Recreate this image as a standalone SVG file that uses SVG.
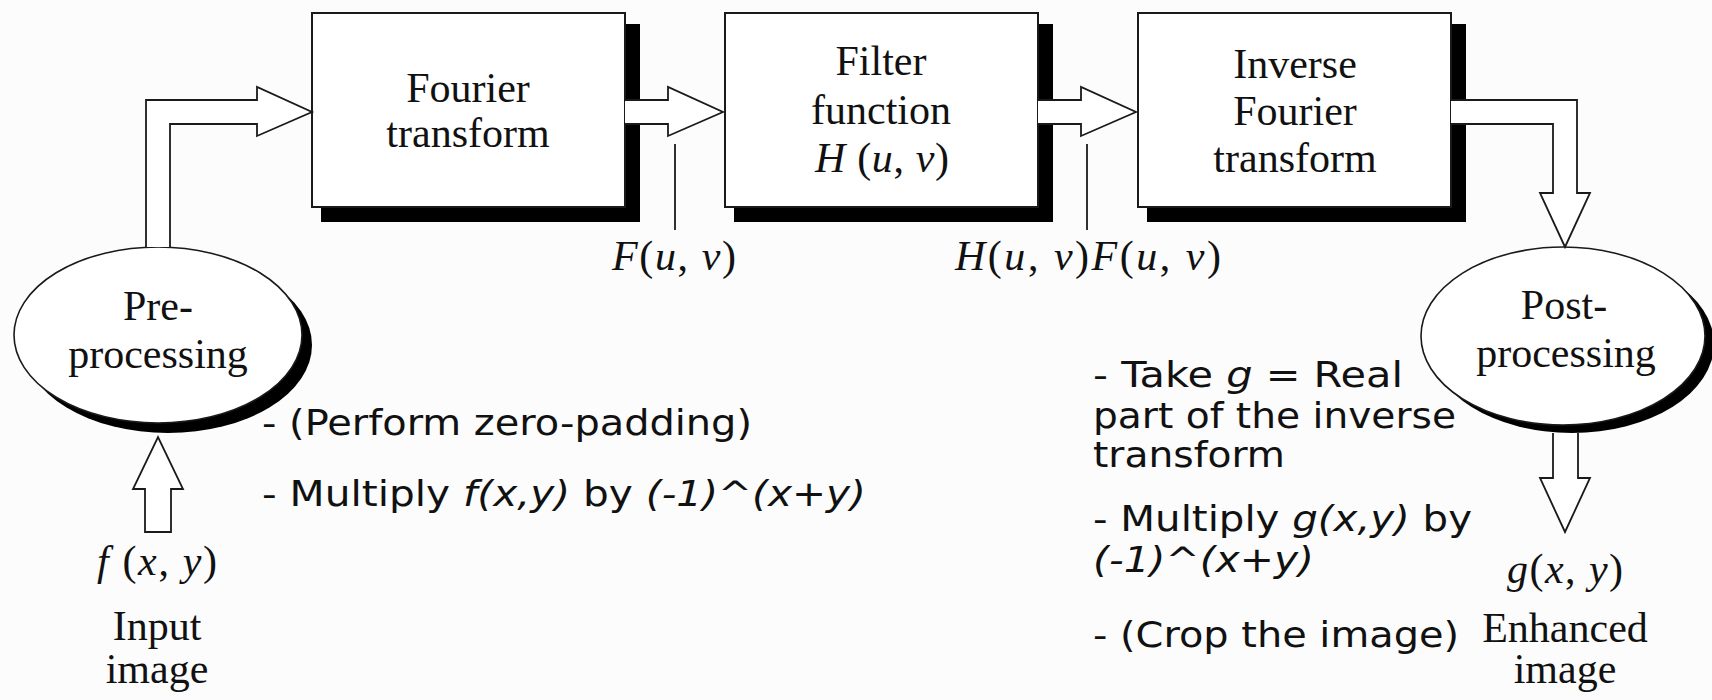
<svg xmlns="http://www.w3.org/2000/svg" width="1712" height="700" viewBox="0 0 1712 700">
<style>
.bg{fill:#fcfcfc}
.box{fill:#fff;stroke:#1a1a1a;stroke-width:2}
.shadow{fill:#000}
.ell{fill:#fff;stroke:#1a1a1a;stroke-width:1.6}
.arr{fill:#fff;stroke:#1a1a1a;stroke-width:1.8;stroke-linejoin:miter}
.tick{stroke:#1a1a1a;stroke-width:1.8}
.serif{font-family:"Liberation Serif","Times New Roman",serif;font-size:42px;fill:#111;text-anchor:middle}
.math{font-family:"Liberation Serif","Times New Roman",serif;font-size:42px;fill:#111}
.i{font-style:italic}
.sans{font-family:"DejaVu Sans","Verdana",sans-serif;font-size:35px;fill:#111}
</style>
<rect class="bg" x="0" y="0" width="1712" height="700"/>

<g id="fourier">
  <rect class="shadow" x="321" y="24" width="319" height="198"/>
  <rect class="box" x="312" y="13" width="313" height="194"/>
  <text class="serif" x="468" y="102">Fourier</text>
  <text class="serif" x="468" y="147">transform</text>
</g>

<g id="filter">
  <rect class="shadow" x="734" y="24" width="319" height="198"/>
  <rect class="box" x="725" y="13" width="313" height="194"/>
  <text class="serif" x="881" y="75">Filter</text>
  <text class="serif" x="881" y="124">function</text>
  <text class="serif" x="882" y="172" textLength="134" lengthAdjust="spacing"><tspan class="i">H</tspan> (<tspan class="i">u</tspan>, <tspan class="i">v</tspan>)</text>
</g>

<g id="inverse">
  <rect class="shadow" x="1147" y="24" width="319" height="198"/>
  <rect class="box" x="1138" y="13" width="313" height="194"/>
  <text class="serif" x="1295" y="78">Inverse</text>
  <text class="serif" x="1295" y="125">Fourier</text>
  <text class="serif" x="1295" y="172">transform</text>
</g>

<g id="preprocessing">
  <ellipse class="shadow" cx="168" cy="345" rx="144" ry="88"/>
  <ellipse class="ell" cx="158" cy="335" rx="144" ry="88"/>
  <text class="serif" x="158" y="320">Pre-</text>
  <text class="serif" x="158" y="368">processing</text>
</g>

<g id="postprocessing">
  <ellipse class="shadow" cx="1572" cy="344" rx="142" ry="89"/>
  <ellipse class="ell" cx="1563" cy="336" rx="142" ry="89"/>
  <text class="serif" x="1564" y="319">Post-</text>
  <text class="serif" x="1566" y="367">processing</text>
</g>

<g id="input">
  <text class="serif" x="157" y="575" textLength="120" lengthAdjust="spacing"><tspan class="i">f</tspan> (<tspan class="i">x</tspan>, <tspan class="i">y</tspan>)</text>
  <text class="serif" x="157" y="640">Input</text>
  <text class="serif" x="157" y="683">image</text>
</g>

<g id="output">
  <text class="serif" x="1565" y="583" textLength="116" lengthAdjust="spacing"><tspan class="i">g</tspan>(<tspan class="i">x</tspan>, <tspan class="i">y</tspan>)</text>
  <text class="serif" x="1565" y="642">Enhanced</text>
  <text class="serif" x="1565" y="683">image</text>
</g>

<g id="connectors">
  <path class="arr" d="M146,247 L146,100 L257,100 L257,87 L312,112 L257,136 L257,124 L170,124 L170,247"/>
  <path class="arr" d="M625,100 L668,100 L668,87 L723,112 L668,136 L668,124 L625,124"/>
  <path class="arr" d="M1038,100 L1081,100 L1081,87 L1136,112 L1081,136 L1081,124 L1038,124"/>
  <path class="arr" d="M1451,100 L1577,100 L1577,193 L1590,193 L1565,247 L1540,193 L1553,193 L1553,124 L1451,124"/>
  <path class="arr" d="M145,532 L145,489 L133,489 L158,437 L183,489 L171,489 L171,532 Z"/>
  <path class="arr" d="M1553,433 L1553,478 L1540,478 L1565,532 L1590,478 L1578,478 L1578,433"/>
  <line class="tick" x1="675" y1="144" x2="675" y2="230"/>
  <line class="tick" x1="1087" y1="144" x2="1087" y2="230"/>
</g>

<g id="labels">
  <text class="math" x="612" y="270" textLength="124" lengthAdjust="spacing"><tspan class="i">F</tspan>(<tspan class="i">u</tspan>, <tspan class="i">v</tspan>)</text>
  <text class="math" x="955" y="270" textLength="266" lengthAdjust="spacing"><tspan class="i">H</tspan>(<tspan class="i">u</tspan>, <tspan class="i">v</tspan>)<tspan class="i">F</tspan>(<tspan class="i">u</tspan>, <tspan class="i">v</tspan>)</text>
</g>

<g id="notes-pre">
  <text class="sans" x="262" y="435" textLength="490" lengthAdjust="spacingAndGlyphs">- (Perform zero-padding)</text>
  <text class="sans" x="262" y="506" textLength="604" lengthAdjust="spacingAndGlyphs">- Multiply <tspan class="i">f(x,y)</tspan> by <tspan class="i">(-1)^(x+y)</tspan></text>
</g>

<g id="notes-post">
  <text class="sans" x="1093" y="387" textLength="310" lengthAdjust="spacingAndGlyphs">- Take <tspan class="i">g</tspan> = Real</text>
  <text class="sans" x="1093" y="428" textLength="363" lengthAdjust="spacingAndGlyphs">part of the inverse</text>
  <text class="sans" x="1093" y="467" textLength="192" lengthAdjust="spacingAndGlyphs">transform</text>
  <text class="sans" x="1093" y="531" textLength="379" lengthAdjust="spacingAndGlyphs">- Multiply <tspan class="i">g(x,y)</tspan> by</text>
  <text class="sans" x="1093" y="572" textLength="221" lengthAdjust="spacingAndGlyphs"><tspan class="i">(-1)^(x+y)</tspan></text>
  <text class="sans" x="1093" y="647" textLength="366" lengthAdjust="spacingAndGlyphs">- (Crop the image)</text>
</g>
</svg>
